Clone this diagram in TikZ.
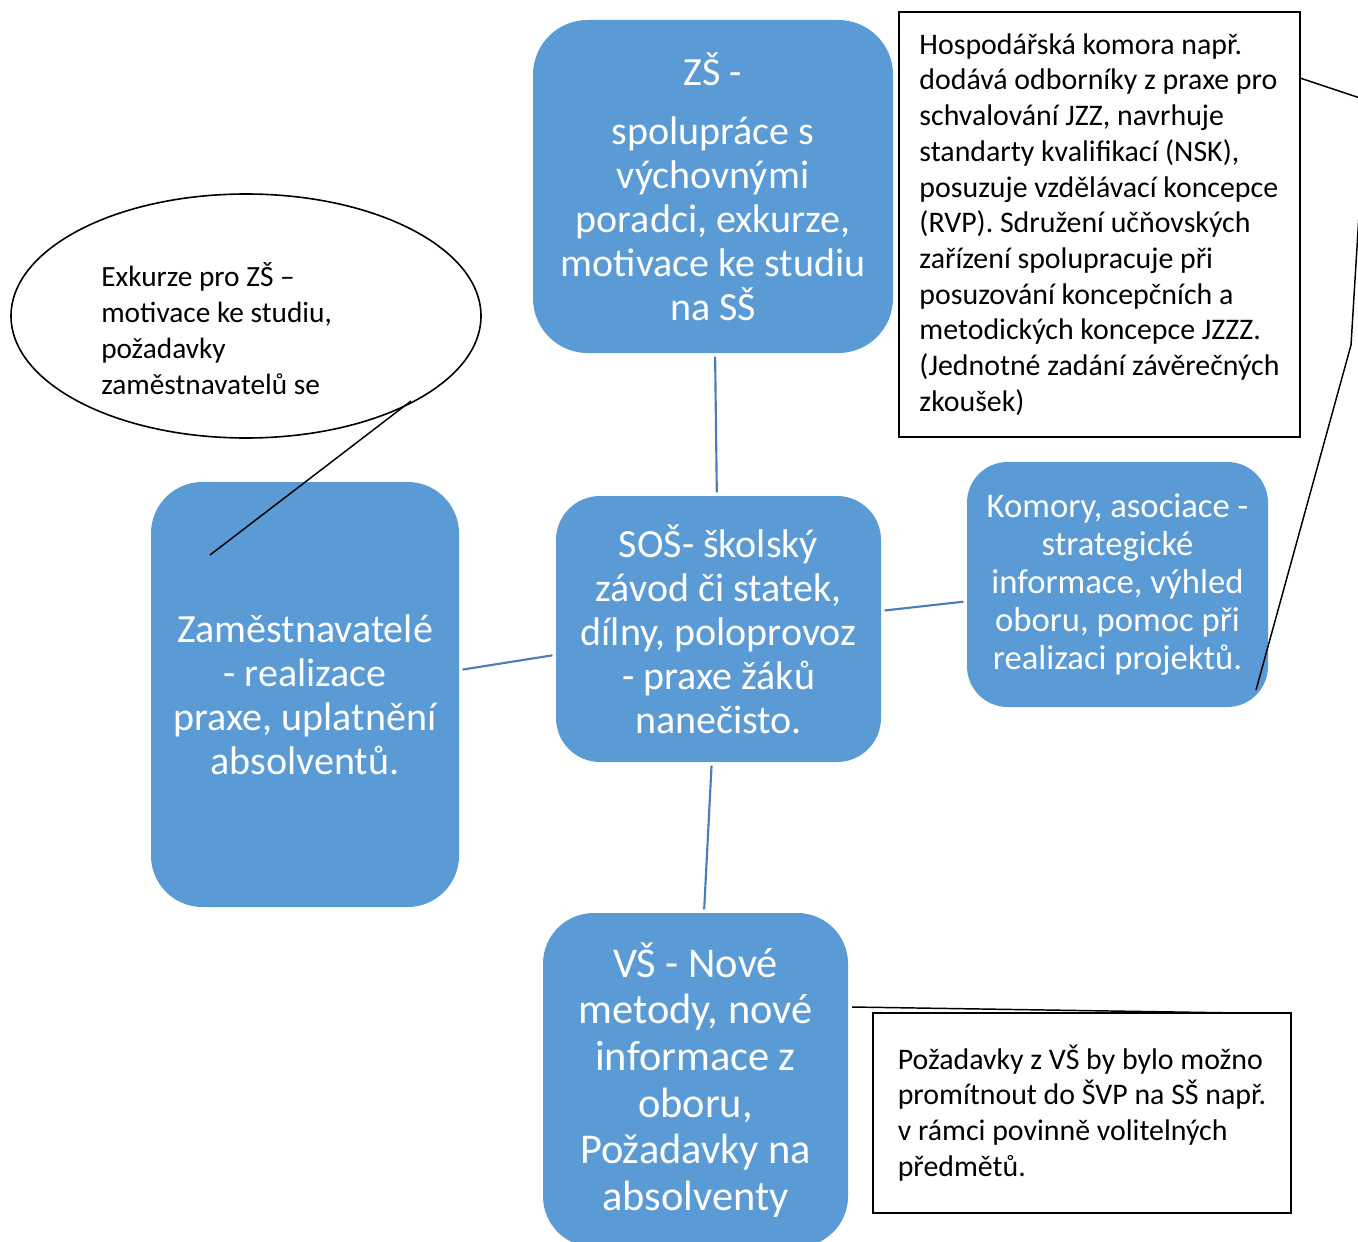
\documentclass[tikz,border=0pt]{standalone}
\usepackage{fontspec}
\setmainfont{Carlito}
\usetikzlibrary{shapes.geometric}
\definecolor{modra}{HTML}{5B9BD5}
\definecolor{spojnice}{HTML}{4A7EBB}

\begin{document}
\begin{tikzpicture}[x=0.75pt,y=-0.75pt,
  blok/.style={rectangle,rounded corners=#1,fill=modra,text=white,align=center,inner sep=0pt,font=\fontsize{30}{33}\selectfont},
  spoj/.style={draw=spojnice,line width=1.6pt,shorten <=2.5pt,shorten >=2.5pt},
  poznamka/.style={rectangle,draw=black,line width=1.2pt,fill=white,align=left,inner sep=0pt,font=\fontsize{22.4}{26.8}\selectfont},
  vyzva/.style={draw=black,line width=1.1pt}]
  \useasboundingbox (0,0) rectangle (1358,1241);

  % bloky
  \node[blok=41pt,minimum width=270pt,minimum height=249.75pt] (zs) at (713,186.5)
    {ZŠ -\\[11pt]spolupráce s\\výchovnými\\poradci, exkurze,\\motivace ke studiu\\na SŠ};
  \node[blok=33pt,minimum width=243.75pt,minimum height=199.5pt] (sos) at (718.5,629)
    {SOŠ- školský\\závod či statek,\\dílny, poloprovoz\\- praxe žáků\\nanečisto.};
  \node[blok=30.5pt,minimum width=225.75pt,minimum height=183.75pt,font=\fontsize{26}{28.5}\selectfont] (komory) at (1117.5,584.5)
    {Komory, asociace -\\strategické\\informace, výhled\\oboru, pomoc při\\realizaci projektů.};
  \node[blok=38.5pt,minimum width=231pt,minimum height=318.75pt] (zam) at (305,694.5)
    {Zaměstnavatelé\\- realizace\\praxe, uplatnění\\absolventů.};
  \node[blok=38pt,minimum width=228.75pt,minimum height=250.5pt,font=\fontsize{31.8}{35}\selectfont] (vs) at (695.5,1080)
    {VŠ - Nové\\metody, nové\\informace z\\oboru,\\Požadavky na\\absolventy};

  % spojnice
  \draw[spoj] (zs) -- (sos);
  \draw[spoj] (sos) -- (komory);
  \draw[spoj] (sos) -- (zam);
  \draw[spoj] (sos) -- (vs);

  % poznamky
  \node[poznamka,minimum width=300.75pt,minimum height=318.75pt] (hk) at (1099.5,224.5)
    {Hospodářská komora např.\\dodává odborníky z praxe pro\\schvalování JZZ, navrhuje\\standarty kvalifikací (NSK),\\posuzuje vzdělávací koncepce\\(RVP). Sdružení učňovských\\zařízení spolupracuje při\\posuzování koncepčních a\\metodických koncepce JZZZ.\\(Jednotné zadání závěrečných\\zkoušek)};
  \node[poznamka,minimum width=313.5pt,minimum height=150pt] (vsnote) at (1082,1113)
    {Požadavky z VŠ by bylo možno\\promítnout do ŠVP na SŠ např.\\v rámci povinně volitelných\\předmětů.};
  \node[ellipse,draw=black,line width=1.2pt,fill=white,inner sep=0pt,minimum width=352.5pt,minimum height=183pt] (bublina) at (246,316) {};
  \node[align=left,inner sep=0pt,anchor=west,font=\fontsize{22}{27}\selectfont] (bublinatext) at (101,329)
    {Exkurze pro ZŠ –\\motivace ke studiu,\\požadavky\\zaměstnavatelů se};

  % ukazatele
  \coordinate (hkkotva) at (1300,78);
  \coordinate (hkzlom) at (1366,100);
  \coordinate (hkzlom2) at (1351,345);
  \coordinate (hkspicka) at (1256,690);
  \draw[vyzva] (hkkotva) -- (hkzlom) -- (hkzlom2) -- (hkspicka);
  \coordinate (bspicka) at (210,555);
  \coordinate (bkotva) at (411,401);
  \draw[vyzva] (bspicka) -- (bkotva);
  \coordinate (vskotva) at (852,1007);
  \coordinate (vsspicka) at (1240,1013);
  \draw[vyzva] (vskotva) -- (vsspicka);
\end{tikzpicture}
\end{document}
